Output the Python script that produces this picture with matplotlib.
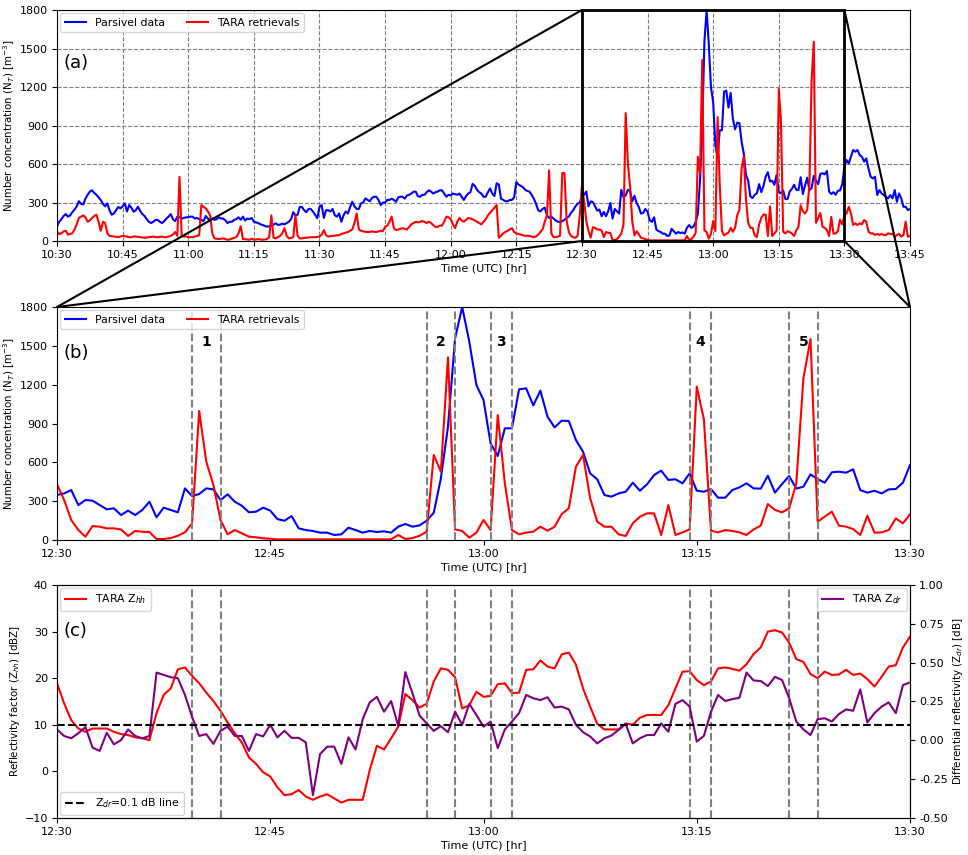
import pandas as pd
import matplotlib
matplotlib.use("Agg")
import matplotlib.pyplot as plt
import matplotlib.dates as mdates
from matplotlib.patches import Rectangle, ConnectionPatch

DAY = "2019-01-01"
STEP = "30s"
START, ZOOM_START, ZOOM_END, END = "10:30", "12:30", "13:30", "13:45"

# Parsivel number concentration [m^-3], 30 s samples
PARSIVEL_EARLY = [  # 10:30:00 - 12:29:30
    111, 150, 170, 195, 210, 190, 200, 225, 245, 270,
    310, 290, 285, 330, 360, 385, 395, 375, 360, 340,
    320, 290, 270, 293, 240, 205, 215, 240, 265, 255,
    270, 293, 230, 280, 260, 228, 240, 267, 235, 210,
    195, 170, 150, 140, 150, 164, 165, 150, 140, 155,
    175, 190, 210, 170, 155, 190, 185, 175, 180, 185,
    185, 190, 190, 175, 180, 170, 165, 155, 195, 175,
    160, 175, 165, 170, 185, 175, 175, 160, 140, 150,
    150, 165, 170, 185, 165, 190, 160, 175, 170, 180,
    150, 145, 140, 130, 125, 118, 112, 115, 120, 128,
    138, 125, 128, 135, 130, 140, 150, 170, 225, 200,
    205, 267, 265, 240, 225, 250, 250, 230, 205, 177,
    265, 280, 180, 240, 240, 230, 250, 200, 190, 215,
    150, 200, 230, 215, 265, 306, 270, 250, 250, 293,
    300, 332, 320, 310, 335, 345, 345, 320, 280, 300,
    300, 320, 320, 330, 320, 306, 340, 345, 345, 330,
    355, 360, 370, 384, 385, 350, 345, 360, 360, 380,
    395, 385, 370, 380, 385, 395, 395, 370, 345, 360,
    355, 370, 365, 360, 370, 345, 320, 350, 370, 380,
    445, 430, 400, 380, 370, 345, 345, 380, 410, 370,
    350, 450, 440, 330, 320, 310, 310, 320, 320, 340,
    460, 440, 430, 420, 400, 390, 385, 360, 330, 290,
    240, 230, 250, 260, 200, 180, 190, 175, 160, 150,
    150, 155, 165, 180, 190, 220, 240, 270, 290, 300,
]
PARSIVEL_ZOOM = [  # 12:30:00 - 13:30:00
    348, 360, 386, 270, 309, 304, 270, 237, 245, 193,
    227, 193, 232, 296, 175, 250, 232, 214, 399, 340,
    355, 399, 391, 309, 353, 296, 265, 214, 219, 250,
    227, 162, 149, 185, 90, 77, 70, 57, 57, 39,
    44, 95, 77, 57, 70, 62, 67, 57, 103, 124,
    103, 113, 149, 211, 476, 875, 1558, 1800, 1532, 1197,
    1081, 747, 649, 863, 863, 1164, 1172, 1040, 1154, 953,
    870, 922, 919, 773, 682, 515, 469, 348, 335, 360,
    373, 443, 381, 430, 502, 536, 464, 469, 438, 515,
    381, 373, 394, 327, 327, 386, 407, 438, 399, 397,
    497, 366, 433, 494, 397, 412, 507, 471, 443, 523,
    528, 520, 546, 386, 366, 381, 360, 391, 394, 443,
    579,
]
PARSIVEL_LATE = [  # 13:30:30 - 13:45:00
    631, 605, 657, 709, 696, 709, 670, 657, 618, 644,
    566, 501, 488, 501, 358, 397, 371, 358, 345, 332,
    358, 332, 397, 306, 371, 332, 267, 267, 241, 250,
]

# TARA retrieved number concentration [m^-3], 30 s samples
TARA_EARLY = [
    70, 55, 60, 75, 80, 50, 55, 60, 90, 130,
    180, 190, 200, 185, 150, 160, 180, 195, 205, 150,
    80, 150, 140, 60, 40, 38, 35, 33, 30, 35,
    40, 38, 35, 30, 30, 35, 35, 32, 30, 28,
    25, 28, 30, 32, 35, 30, 30, 32, 35, 30,
    30, 35, 40, 50, 70, 40, 500, 40, 35, 35,
    30, 30, 30, 35, 40, 45, 280, 265, 255, 230,
    200, 60, 20, 18, 15, 18, 20, 15, 10, 12,
    20, 25, 30, 60, 115, 15, 15, 12, 10, 18,
    10, 12, 15, 12, 10, 12, 15, 30, 200, 25,
    20, 30, 40, 60, 100, 40, 20, 25, 30, 200,
    40, 20, 20, 25, 25, 28, 30, 30, 30, 32,
    35, 50, 85, 45, 35, 38, 40, 42, 45, 45,
    55, 60, 65, 70, 80, 90, 140, 215, 90, 80,
    75, 72, 70, 70, 75, 72, 70, 75, 80, 78,
    110, 120, 150, 190, 100, 85, 90, 95, 100, 95,
    90, 110, 130, 140, 150, 145, 150, 155, 150, 140,
    150, 140, 125, 110, 110, 120, 120, 150, 190, 185,
    170, 130, 100, 150, 180, 160, 150, 165, 180, 175,
    170, 160, 150, 140, 130, 150, 170, 200, 220, 240,
    260, 280, 25, 40, 60, 70, 80, 90, 100, 70,
    60, 55, 50, 45, 40, 42, 40, 35, 30, 35,
    50, 70, 90, 150, 200, 550, 60, 30, 30, 35,
    40, 530, 530, 160, 70, 40, 30, 25, 40, 200,
]
TARA_ZOOM = [
    430, 309, 155, 77, 26, 108, 103, 90, 90, 82,
    31, 70, 64, 62, 8, 8, 15, 33, 59, 129,
    997, 605, 425, 155, 44, 77, 52, 26, 21, 13,
    10, 5, 5, 5, 5, 5, 5, 5, 5, 5,
    5, 5, 5, 5, 5, 5, 5, 5, 39, 8,
    15, 33, 64, 657, 528, 1411, 82, 70, 18, 57,
    155, 77, 966, 438, 77, 44, 57, 64, 103, 72,
    103, 201, 245, 567, 657, 322, 142, 103, 103, 44,
    31, 129, 180, 206, 206, 39, 270, 39, 59, 82,
    1185, 932, 72, 59, 77, 70, 59, 39, 82, 111,
    278, 232, 214, 245, 438, 1249, 1553, 142, 180, 219,
    111, 103, 85, 39, 188, 57, 59, 77, 167, 129,
    198,
]
TARA_LATE = [
    216, 267, 216, 125, 138, 125, 138, 130, 164, 151,
    73, 60, 60, 47, 55, 47, 55, 47, 47, 60,
    55, 55, 34, 47, 55, 34, 47, 151, 34, 40,
]

# TARA reflectivity [dBZ] and differential reflectivity [dB], 12:30 - 13:30
ZHH = [
    18.9, 14.6, 11.0, 9.2, 8.5, 9.2, 9.2, 9.2, 8.5, 8.0,
    7.8, 7.3, 7.1, 6.7, 12.5, 16.4, 17.8, 21.9, 22.3, 20.5,
    18.9, 16.9, 15.1, 13.0, 10.5, 8.2, 6.2, 3.0, 1.6, -0.2,
    -1.1, -3.4, -5.1, -4.9, -4.0, -5.4, -6.1, -5.4, -4.9, -5.8,
    -6.7, -6.1, -6.1, -6.1, 0.3, 5.5, 4.7, 7.1, 9.6, 16.6,
    15.3, 13.7, 14.5, 19.3, 22.1, 21.8, 20.2, 13.5, 14.2, 17.1,
    16.0, 16.2, 18.7, 18.9, 16.8, 16.9, 21.8, 21.9, 23.8, 22.5,
    22.1, 25.1, 25.5, 22.9, 17.8, 13.9, 10.2, 9.0, 9.0, 9.0,
    10.3, 10.0, 11.5, 12.1, 12.1, 12.1, 14.2, 17.8, 21.4, 21.5,
    19.6, 18.5, 19.3, 22.1, 22.3, 22.0, 21.6, 23.0, 25.2, 26.6,
    30.0, 30.3, 29.8, 27.6, 24.1, 23.5, 20.9, 20.0, 21.4, 20.7,
    20.8, 21.8, 20.7, 21.0, 19.8, 18.2, 20.3, 22.5, 22.8, 26.6,
    28.9,
]
ZDR = [
    0.070, 0.028, 0.013, 0.046, 0.085, -0.047, -0.068, 0.049, -0.026, 0.001,
    0.070, 0.028, 0.013, 0.028, 0.436, 0.421, 0.406, 0.400, 0.292, 0.151,
    0.028, 0.040, -0.023, 0.061, 0.088, 0.028, 0.028, -0.068, 0.040, 0.025,
    0.100, 0.019, 0.061, 0.016, 0.016, -0.014, -0.353, -0.089, -0.041, -0.041,
    -0.152, 0.019, -0.059, 0.136, 0.244, 0.280, 0.184, 0.253, 0.094, 0.439,
    0.304, 0.160, 0.109, 0.061, 0.091, 0.052, 0.184, 0.100, 0.235, 0.163,
    0.088, 0.121, -0.050, 0.070, 0.121, 0.175, 0.292, 0.271, 0.259, 0.277,
    0.211, 0.217, 0.199, 0.100, 0.052, 0.025, -0.020, 0.013, 0.031, 0.067,
    0.106, -0.020, 0.013, 0.034, 0.034, 0.109, 0.055, 0.235, 0.259, 0.217,
    -0.008, 0.028, 0.184, 0.292, 0.253, 0.265, 0.274, 0.436, 0.385, 0.382,
    0.349, 0.409, 0.388, 0.271, 0.121, 0.070, 0.034, 0.136, 0.142, 0.121,
    0.169, 0.199, 0.190, 0.328, 0.115, 0.175, 0.217, 0.244, 0.175, 0.355,
    0.373,
]
ZDR_THRESHOLD = 0.1

EVENTS = [("12:39:30", "12:41:30"), ("12:56:00", "12:58:00"),
          ("13:00:30", "13:02:00"), ("13:14:30", "13:16:00"),
          ("13:21:30", "13:23:30")]
EVENT_LABELS = ["1", "2", "3", "4", "5"]

NT_TICKS = [0, 300, 600, 900, 1200, 1500, 1800]
ZHH_TICKS = [-10, 0, 10, 20, 30, 40]
ZDR_TICKS = [-0.5, -0.25, 0.0, 0.25, 0.5, 0.75, 1.0]

FS = 8        # tick labels / x labels
FS_Y = 7.4    # y labels
FS_LEG = 7.8  # legends


def ts(hhmm):
    return pd.Timestamp(f"{DAY} {hhmm}")


def time_axis(ax, start, end):
    ax.set_xlim(ts(start), ts(end))
    ax.xaxis.set_major_locator(mdates.MinuteLocator(byminute=[0, 15, 30, 45]))
    ax.xaxis.set_major_formatter(mdates.DateFormatter("%H:%M"))
    ax.set_xlabel("Time (UTC) [hr]", fontsize=FS, labelpad=2)
    ax.tick_params(labelsize=FS, pad=3)


def main():
    t_all = pd.date_range(ts(START), ts(END), freq=STEP)
    parsivel = PARSIVEL_EARLY + PARSIVEL_ZOOM + PARSIVEL_LATE
    tara = TARA_EARLY + TARA_ZOOM + TARA_LATE
    df = pd.DataFrame({"parsivel": parsivel, "tara": tara}, index=t_all)
    zoom = df.loc[ts(ZOOM_START):ts(ZOOM_END)]
    t_zoom = zoom.index

    fig = plt.figure(figsize=(9.68, 8.55), dpi=100)
    ax_a = fig.add_axes([0.0589, 0.7181, 0.8812, 0.2702])
    ax_b = fig.add_axes([0.0589, 0.3684, 0.8812, 0.2725])
    ax_c = fig.add_axes([0.0589, 0.0433, 0.8812, 0.2725])

    nt_label = r"Number concentration (N$_T$) [m$^{-3}$]"

    # (a) full period
    ax_a.plot(df.index, df["parsivel"], color="blue", lw=1.5, label="Parsivel data")
    ax_a.plot(df.index, df["tara"], color="red", lw=1.5, label="TARA retrievals")
    ax_a.set_ylim(0, 1800)
    ax_a.set_yticks(NT_TICKS)
    time_axis(ax_a, START, END)
    ax_a.set_ylabel(nt_label, fontsize=FS_Y, labelpad=2)
    ax_a.grid(True, ls="--", color="grey", lw=0.8)
    ax_a.legend(loc="upper left", ncol=2, fontsize=FS_LEG, borderaxespad=0.3)
    ax_a.text(0.008, 0.75, "(a)", transform=ax_a.transAxes, fontsize=13)
    rect = Rectangle((mdates.date2num(ts(ZOOM_START)), 0),
                     mdates.date2num(ts(ZOOM_END)) - mdates.date2num(ts(ZOOM_START)), 1800,
                     fill=False, ec="black", lw=2, zorder=5, clip_on=False)
    ax_a.add_patch(rect)

    # (b) zoomed period
    ax_b.plot(t_zoom, zoom["parsivel"], color="blue", lw=1.5, label="Parsivel data")
    ax_b.plot(t_zoom, zoom["tara"], color="red", lw=1.5, label="TARA retrievals")
    ax_b.set_ylim(0, 1800)
    ax_b.set_yticks(NT_TICKS)
    time_axis(ax_b, ZOOM_START, ZOOM_END)
    ax_b.set_ylabel(nt_label, fontsize=FS_Y, labelpad=2)
    ax_b.legend(loc="upper left", ncol=2, fontsize=FS_LEG, borderaxespad=0.3)
    ax_b.text(0.008, 0.78, "(b)", transform=ax_b.transAxes, fontsize=13)
    for (s, e), lab in zip(EVENTS, EVENT_LABELS):
        for edge in (s, e):
            ax_b.axvline(ts(edge), color="grey", ls="--", lw=1.5)
        mid = ts(s) + (ts(e) - ts(s)) / 2
        ax_b.text(mid, 1530, lab, ha="center", va="center", fontsize=10, fontweight="bold")

    # (c) radar moments
    ax_c.plot(t_zoom, ZHH, color="red", lw=1.5, label=r"TARA Z$_{hh}$")
    ax_c.set_ylim(-10, 40)
    ax_c.set_yticks(ZHH_TICKS)
    time_axis(ax_c, ZOOM_START, ZOOM_END)
    ax_c.set_ylabel(r"Reflectivity factor (Z$_{hh}$) [dBZ]", fontsize=FS_Y, labelpad=2)
    for s, e in EVENTS:
        for edge in (s, e):
            ax_c.axvline(ts(edge), color="grey", ls="--", lw=1.5)
    ax_c.text(0.008, 0.78, "(c)", transform=ax_c.transAxes, fontsize=13)

    ax_r = ax_c.twinx()
    zdr_line, = ax_r.plot(t_zoom, ZDR, color="purple", lw=1.5, label=r"TARA Z$_{dr}$")
    thr, = ax_r.plot([0, 1], [ZDR_THRESHOLD, ZDR_THRESHOLD], transform=ax_r.get_yaxis_transform(),
                     color="black", ls="--", lw=1.5, label=r"Z$_{dr}$=0.1 dB line")
    ax_r.set_ylim(-0.5, 1.0)
    ax_r.set_yticks(ZDR_TICKS)
    ax_r.yaxis.set_major_formatter(plt.FormatStrFormatter("%.2f"))
    ax_r.tick_params(labelsize=FS, pad=3)
    ax_r.set_ylabel(r"Differential reflectivity (Z$_{dr}$) [dB]", fontsize=FS_Y, labelpad=2)

    ax_c.legend(loc="upper left", fontsize=FS_LEG, borderaxespad=0.3)
    leg_thr = ax_r.legend(handles=[thr], loc="lower left", fontsize=FS_LEG, borderaxespad=0.3)
    ax_r.add_artist(leg_thr)
    ax_r.legend(handles=[zdr_line], loc="upper right", fontsize=FS_LEG, borderaxespad=0.3)

    # zoom connectors
    x0 = mdates.date2num(ts(ZOOM_START))
    x1 = mdates.date2num(ts(ZOOM_END))
    for xa, corner in ((x0, (0, 1)), (x1, (1, 1))):
        for ya in (0, 1800):
            con = ConnectionPatch(xyA=(xa, ya), coordsA=ax_a.transData,
                                  xyB=corner, coordsB=ax_b.transAxes,
                                  color="black", lw=1.5)
            fig.add_artist(con)

    fig.savefig("out.png", dpi=100)
    plt.close(fig)
    return 0


if __name__ == "__main__":
    raise SystemExit(main())
